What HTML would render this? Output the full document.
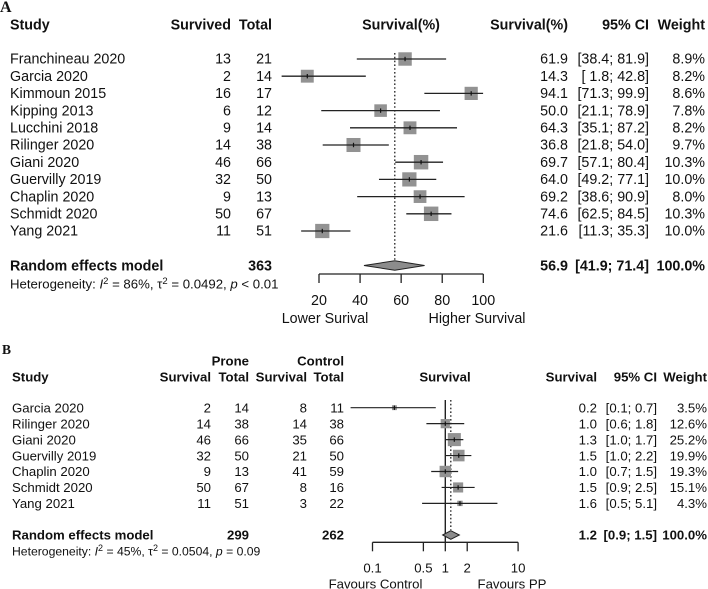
<!DOCTYPE html>
<html>
<head>
<meta charset="utf-8">
<title>Forest plots</title>
<style>
html,body{margin:0;padding:0;background:#fff;width:708px;height:589px;overflow:hidden}
svg{display:block;filter:blur(0.3px)}
text{font-family:"Liberation Sans",sans-serif;fill:#111}
.a{font-size:14.3px}
.b{font-size:13.2px}
.bd{font-weight:bold}
.panel{font-family:"Liberation Serif",serif;font-weight:bold}
</style>
</head>
<body>
<svg id="chart" xmlns="http://www.w3.org/2000/svg" width="708" height="589" viewBox="0 0 708 589">
  <text class="panel" x="0" y="12" font-size="16">A</text>
  <text class="panel" x="2" y="354" font-size="13.5">B</text>
  <text x="10" y="288.5" font-size="13.2">Heterogeneity: <tspan font-style="italic">I</tspan><tspan dy="-4.5" font-size="9.5">2</tspan><tspan dy="4.5"> = 86%, τ</tspan><tspan dy="-4.5" font-size="9.5">2</tspan><tspan dy="4.5"> = 0.0492, </tspan><tspan font-style="italic">p</tspan> &lt; 0.01</text>
  <text x="12" y="555.5" font-size="12.2">Heterogeneity: <tspan font-style="italic">I</tspan><tspan dy="-4.5" font-size="9">2</tspan><tspan dy="4.5"> = 45%, τ</tspan><tspan dy="-4.5" font-size="9">2</tspan><tspan dy="4.5"> = 0.0504, </tspan><tspan font-style="italic">p</tspan> = 0.09</text>
  <g id="layer"></g>
</svg>
<script>
// Panel A data
const aStudies = ["Franchineau 2020","Garcia 2020","Kimmoun 2015","Kipping 2013","Lucchini 2018","Rilinger 2020","Giani 2020","Guervilly 2019","Chaplin 2020","Schmidt 2020","Yang 2021"];
const aSurvived = [13,2,16,6,9,14,46,32,9,50,11];
const aTotal = [21,14,17,12,14,38,66,50,13,67,51];
const aEstimate = [61.9,14.3,94.1,50.0,64.3,36.8,69.7,64.0,69.2,74.6,21.6];
const aLow = [38.4,1.8,71.3,21.1,35.1,21.8,57.1,49.2,38.6,62.5,11.3];
const aHigh = [81.9,42.8,99.9,78.9,87.2,54.0,80.4,77.1,90.9,84.5,35.3];
const aWeight = [8.9,8.2,8.6,7.8,8.2,9.7,10.3,10.0,8.0,10.3,10.0];
const aPooled = [56.9,41.9,71.4];
const aPooledTotal = 363;
const aTicks = [20,40,60,80,100];

// Panel B data
const bStudies = ["Garcia 2020","Rilinger 2020","Giani 2020","Guervilly 2019","Chaplin 2020","Schmidt 2020","Yang 2021"];
const bProneSurvival = [2,14,46,32,9,50,11];
const bProneTotal = [14,38,66,50,13,67,51];
const bControlSurvival = [8,14,35,21,41,8,3];
const bControlTotal = [11,38,66,50,59,16,22];
const bEstimate = [0.2,1.0,1.33,1.53,1.0,1.5,1.59];
const bLow = [0.05,0.55,1.0,1.0,0.64,0.89,0.48];
const bHigh = [0.74,1.82,1.77,2.28,1.5,2.53,5.2];
const bEstimateLabels = ["0.2","1.0","1.3","1.5","1.0","1.5","1.6"];
const bCiLabels = ["[0.1; 0.7]","[0.6; 1.8]","[1.0; 1.7]","[1.0; 2.2]","[0.7; 1.5]","[0.9; 2.5]","[0.5; 5.1]"];
const bWeight = [3.5,12.6,25.2,19.9,19.3,15.1,4.3];
const bPooled = [1.19,0.92,1.56];
const bPooledLabels = ["1.2","[0.9; 1.5]"];
const bPooledProne = 299;
const bPooledControl = 262;
const bTicks = [0.1,0.5,1,2,10];

const NS = "http://www.w3.org/2000/svg";
const layer = document.getElementById("layer");

function xA(v){ return 319 + (v - 20) * (483.3 - 319) / 80; }
function xB(v){ return 445.3 + Math.log10(v) * 72.8; }
function rowA(i){ return 59 + i * 17.2; }
function rowB(i){ return 407.7 + i * 15.95; }

function shape(tag, props){
  const el = document.createElementNS(NS, tag);
  for (const k in props) el.setAttribute(k, props[k]);
  layer.appendChild(el);
  return el;
}
function label(str, x, cy, anchor, cls){
  const el = shape("text", {x:x, y:cy + 4.7, "text-anchor":anchor, "class":cls});
  el.textContent = str;
  return el;
}
function line(x1, y1, x2, y2, w, color){
  return shape("line", {x1:x1, y1:y1, x2:x2, y2:y2, "stroke-width":w, stroke:color || "#222"});
}
function ciA(lo, hi){
  const l = lo < 10 ? " " + lo.toFixed(1) : lo.toFixed(1);
  return "[" + l + "; " + hi.toFixed(1) + "]";
}

function headerCell(str, x, cy, anchor, cls){
  const el = label(str, x, cy, anchor, cls + " bd");
  
  
}
function cell(str, x, cy, anchor, cls){
  const el = label(str, x, cy, anchor, cls);
  
  
}
function boldCell(str, x, cy, anchor, cls){
  const el = label(str, x, cy, anchor, cls + " bd");
  
  
}
function studyMark(scale, cy, est, lo, hi, size, lw){
  const sq = shape("rect", {x:scale(est) - size / 2, y:cy - size / 2, width:size, height:size, fill:"#929292"});
  
  
  const ci = line(scale(lo), cy, scale(hi), cy, lw);
  
  
  const tick = line(scale(est), cy - 2.2, scale(est), cy + 2.2, 1.2, "#111");
  
  
}
function diamond(scale, cy, vals, h){
  const d = shape("polygon", {
    points: [[scale(vals[1]),cy],[scale(vals[0]),cy - h],[scale(vals[2]),cy],[scale(vals[0]),cy + h]].map(p => p.join(",")).join(" "),
    fill:"#8c8c8c", stroke:"#222", "stroke-width":1
  });
  
  
}
function axis(scale, ticks, y, tickLen, labelY, cls){
  const base = line(scale(ticks[0]), y, scale(ticks[ticks.length - 1]), y, 1.3);
  
  
  ticks.forEach(t => {
    const m = line(scale(t), y, scale(t), y + tickLen, 1.3);
    
    
    const l = label(String(t), scale(t), labelY, "middle", cls);
    
    
  });
}

/* ---------- Panel A ---------- */
headerCell("Study", 10, 25, "start", "a");
headerCell("Survived", 231, 25, "end", "a");
headerCell("Total", 272, 25, "end", "a");
headerCell("Survival(%)", 401, 25, "middle", "a");
headerCell("Survival(%)", 568, 25, "end", "a");
headerCell("95% CI", 649, 25, "end", "a");
headerCell("Weight", 705, 25, "end", "a");

const aRef = line(xA(aPooled[0]), 53, xA(aPooled[0]), 261, 1.3, "#222");
aRef.setAttribute('stroke-dasharray', '1.6 2.2');



aStudies.forEach((s, i) => {
  const y = rowA(i);
  cell(s, 10, y, "start", "a");
  cell(String(aSurvived[i]), 231, y, "end", "a");
  cell(String(aTotal[i]), 272, y, "end", "a");
  cell(aEstimate[i].toFixed(1), 568, y, "end", "a");
  cell(ciA(aLow[i], aHigh[i]), 649, y, "end", "a");
  cell(aWeight[i].toFixed(1) + "%", 705, y, "end", "a");
  studyMark(xA, y, aEstimate[i], aLow[i], aHigh[i], 4.5 * Math.sqrt(aWeight[i]), 1.3);
});

boldCell("Random effects model", 10, 266, "start", "a");
boldCell(String(aPooledTotal), 272, 266, "end", "a");
boldCell(aPooled[0].toFixed(1), 568, 266, "end", "a");
boldCell(ciA(aPooled[1], aPooled[2]), 649, 266, "end", "a");
boldCell("100.0%", 705, 266, "end", "a");
diamond(xA, 265.5, aPooled, 4.7);
axis(xA, aTicks, 274, 9, 300.5, "a");

const aLower = label("Lower Surival", 325, 318.3, "middle", "a");


const aHigher = label("Higher Survival", 477, 318.3, "middle", "a");



/* ---------- Panel B ---------- */
headerCell("Prone", 249, 361, "end", "b");
headerCell("Control", 344, 361, "end", "b");
headerCell("Study", 12, 377, "start", "b");
headerCell("Survival", 211, 377, "end", "b");
headerCell("Total", 249, 377, "end", "b");
headerCell("Survival", 307, 377, "end", "b");
headerCell("Total", 344, 377, "end", "b");
headerCell("Survival", 445, 377, "middle", "b");
headerCell("Survival", 597, 377, "end", "b");
headerCell("95% CI", 657, 377, "end", "b");
headerCell("Weight", 707, 377, "end", "b");

const bNull = line(xB(1), 400, xB(1), 542, 1.4, "#222");


const bRef = line(xB(bPooled[0]), 400, xB(bPooled[0]), 530, 1.3, "#222");
bRef.setAttribute('stroke-dasharray', '1.6 2.2');



bStudies.forEach((s, i) => {
  const y = rowB(i);
  cell(s, 12, y, "start", "b");
  cell(String(bProneSurvival[i]), 211, y, "end", "b");
  cell(String(bProneTotal[i]), 249, y, "end", "b");
  cell(String(bControlSurvival[i]), 307, y, "end", "b");
  cell(String(bControlTotal[i]), 344, y, "end", "b");
  cell(bEstimateLabels[i], 597, y, "end", "b");
  cell(bCiLabels[i], 657, y, "end", "b");
  cell(bWeight[i].toFixed(1) + "%", 707, y, "end", "b");
  studyMark(xB, y, bEstimate[i], bLow[i], bHigh[i], 2.6 * Math.sqrt(bWeight[i]), 1.2);
});

boldCell("Random effects model", 12, 535, "start", "b");
boldCell(String(bPooledProne), 249, 535, "end", "b");
boldCell(String(bPooledControl), 344, 535, "end", "b");
boldCell(bPooledLabels[0], 597, 535, "end", "b");
boldCell(bPooledLabels[1], 657, 535, "end", "b");
boldCell("100.0%", 707, 535, "end", "b");
diamond(xB, 535, bPooled, 4.3);
axis(xB, bTicks, 542.3, 9, 568, "b");

const bLeft = label("Favours Control", 375.5, 584, "middle", "b");


const bRight = label("Favours PP", 512, 584, "middle", "b");


</script>
</body>
</html>
